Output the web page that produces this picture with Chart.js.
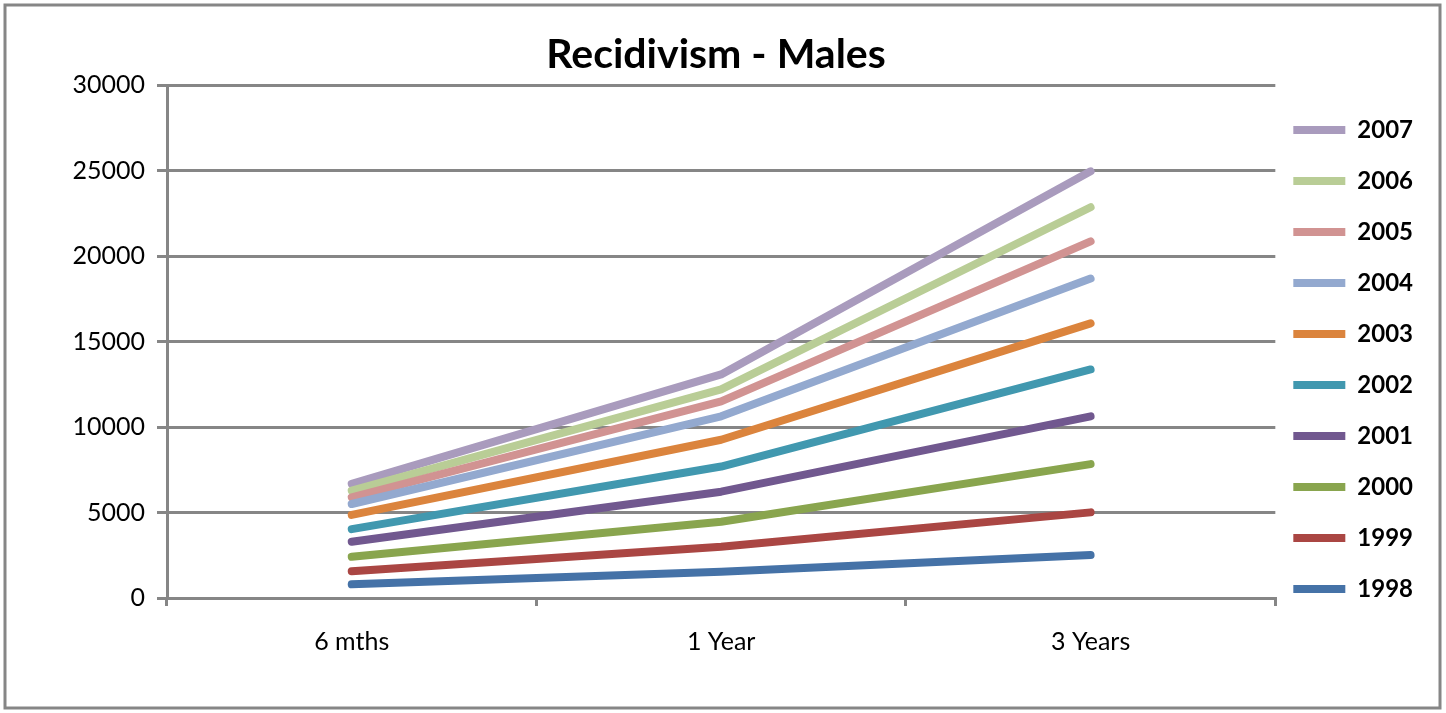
<!DOCTYPE html>
<html>
<head>
<meta charset="utf-8">
<title>Recidivism - Males</title>
<script src="https://cdn.jsdelivr.net/npm/chart.js@4/dist/chart.umd.min.js"></script>
<style>
  html, body { margin: 0; padding: 0; background: #fff; }
  #wrap { width: 1446px; height: 713px; }
</style>
</head>
<body>
<div id="wrap"><canvas id="recChart" width="1446" height="713"></canvas></div>
<script>
// Datos
const periods = ['6 mths', '1 Year', '3 Years'];
const years = ['1998', '1999', '2000', '2001', '2002', '2003', '2004', '2005', '2006', '2007'];
const v1998 = [800, 1530, 2510];
const v1999 = [1570, 3000, 5010];
const v2000 = [2410, 4460, 7830];
const v2001 = [3290, 6220, 10630];
const v2002 = [4030, 7690, 13370];
const v2003 = [4860, 9260, 16070];
const v2004 = [5500, 10630, 18690];
const v2005 = [5890, 11500, 20860];
const v2006 = [6280, 12200, 22860];
const v2007 = [6680, 13080, 24960];
const yTicks = [0, 5000, 10000, 15000, 20000, 25000, 30000];

const seriesValues = [v1998, v1999, v2000, v2001, v2002, v2003, v2004, v2005, v2006, v2007];
const colors = ['#4572a7', '#aa4643', '#89a54e', '#71588f', '#4198af', '#db843d',
                '#93a9cf', '#d19392', '#b9cd96', '#a99bbd'];

const gridGrey = '#868686';

// marco exterior del grafico + leyenda un poco a la izquierda
const frame = {
    id: 'frame',
    afterLayout(chart) {
        chart.legend.left -= 9;
        chart.legend.right -= 9;
    },
    beforeDraw(chart) {
        const c = chart.ctx;
        c.save();
        c.fillStyle = '#fff';
        c.fillRect(0, 0, chart.width, chart.height);
        c.strokeStyle = gridGrey;
        c.lineWidth = 3;
        c.strokeRect(5, 5, 1435, 703);
        c.restore();
    }
};

const ctx = document.getElementById('recChart').getContext('2d');
const recChart = new Chart(ctx, {
    type: 'line',
    data: {
        labels: periods,
        datasets: years.map((y, i) => ({
            label: y,
            data: seriesValues[i],
            borderColor: colors[i],
            backgroundColor: colors[i],
            borderWidth: 8,
            borderCapStyle: 'round',
            borderJoinStyle: 'round',
            pointRadius: 0,
            pointHoverRadius: 0,
            tension: 0,
            fill: false
        }))
    },
    options: {
        responsive: false,
        animation: false,
        layout: { padding: { left: 0, right: 14, top: 10, bottom: 35 } },
        plugins: {
            title: {
                display: true,
                text: 'Recidivism - Males',
                color: '#000',
                font: { family: 'Lato', size: 41, weight: 'bold', lineHeight: 1.2 },
                padding: { top: 20, bottom: 6 }
            },
            legend: {
                position: 'right',
                reverse: true,
                title: {
                    display: true,
                    text: ' ',
                    font: { size: 11, lineHeight: 1 },
                    padding: { top: 10, bottom: 10 }
                },
                labels: {
                    color: '#000',
                    font: { family: 'Lato', size: 24, weight: 'bold' },
                    usePointStyle: true,
                    pointStyle: 'line',
                    pointStyleWidth: 52,
                    padding: 27
                }
            },
            tooltip: { enabled: false }
        },
        scales: {
            x: {
                offset: true,
                grid: {
                    offset: true,
                    drawOnChartArea: false,
                    drawTicks: true,
                    tickLength: 8,
                    color: gridGrey,
                    lineWidth: 3
                },
                border: { color: gridGrey, width: 3 },
                ticks: {
                    color: '#000',
                    font: { family: 'Lato', size: 25 },
                    padding: 21
                }
            },
            y: {
                min: 0,
                max: 30000,
                afterBuildTicks: axis => { axis.ticks = yTicks.map(v => ({ value: v })); },
                afterFit: axis => { axis.width = 167; },
                grid: {
                    color: gridGrey,
                    lineWidth: 3,
                    tickLength: 10
                },
                border: { color: gridGrey, width: 3 },
                ticks: {
                    color: '#000',
                    font: { family: 'Lato', size: 25 },
                    padding: 12,
                    callback: v => String(v)
                }
            }
        }
    },
    plugins: [frame]
});
</script>
</body>
</html>
